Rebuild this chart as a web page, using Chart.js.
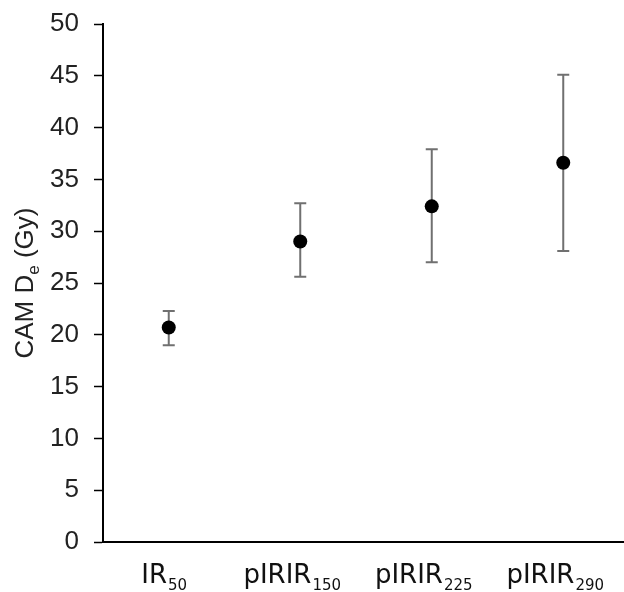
<!DOCTYPE html>
<html>
<head>
<meta charset="utf-8">
<script src="https://cdn.jsdelivr.net/npm/chart.js@4.4.1/dist/chart.umd.min.js"></script>
<style>
  html, body { margin: 0; padding: 0; background: #fff; overflow: hidden; }
  #wrap { width: 624px; height: 592px; overflow: hidden; }
</style>
</head>
<body>
<div id="wrap"><canvas id="myChart" width="636" height="592"></canvas></div>
<script>
// donnees
const labelMain = ["IR", "pIRIR", "pIRIR", "pIRIR"];
const labelSub = ["50", "150", "225", "290"];
const deValues = [20.7, 29.0, 32.4, 36.6];
const deLow = [19.0, 25.6, 27.0, 28.1];
const deHigh = [22.3, 32.7, 37.9, 45.1];
const yTicks = [0, 5, 10, 15, 20, 25, 30, 35, 40, 45, 50];

const categories = labelMain.map((m, i) => m + labelSub[i]);

// barres d'erreur dessinees avant les points
const errorBars = {
    id: 'errorBars',
    beforeDatasetsDraw(chart) {
        const ctx = chart.ctx;
        const x = chart.scales.x;
        const y = chart.scales.y;
        ctx.save();
        ctx.strokeStyle = '#707070';
        ctx.lineWidth = 2;
        deValues.forEach((v, i) => {
            const px = x.getPixelForValue(i);
            const top = y.getPixelForValue(deHigh[i]);
            const bot = y.getPixelForValue(deLow[i]);
            ctx.beginPath();
            ctx.moveTo(px, top);
            ctx.lineTo(px, bot);
            ctx.moveTo(px - 6, top);
            ctx.lineTo(px + 6, top);
            ctx.moveTo(px - 6, bot);
            ctx.lineTo(px + 6, bot);
            ctx.stroke();
        });
        ctx.restore();
    }
};

// etiquettes avec indices + titre de l'axe y
const subLabels = {
    id: 'subLabels',
    afterDraw(chart) {
        const ctx = chart.ctx;
        const x = chart.scales.x;
        ctx.save();
        ctx.fillStyle = '#111';
        ctx.textBaseline = 'alphabetic';
        ctx.textAlign = 'left';
        const mainFont = '26px "DejaVu Sans"';
        const subFont = '15px "DejaVu Sans"';
        labelMain.forEach((m, i) => {
            ctx.font = mainFont;
            const w1 = ctx.measureText(m).width;
            const wFull = ctx.measureText(labelSub[i]).width;
            const left = x.getPixelForValue(i) - (w1 + wFull) / 2 + 2;
            ctx.fillText(m, left, 583);
            ctx.font = subFont;
            ctx.fillText(labelSub[i], left + w1 + 1, 590);
        });

        // titre vertical
        ctx.translate(33, 283);
        ctx.rotate(-Math.PI / 2);
        ctx.fillStyle = '#222';
        const t1 = 'CAM D', t2 = 'e', t3 = ' (Gy)';
        const f1 = '26px "Liberation Sans"', f2 = '17px "Liberation Sans"';
        ctx.font = f1;
        const a = ctx.measureText(t1).width;
        const c = ctx.measureText(t3).width;
        ctx.font = f2;
        const b = ctx.measureText(t2).width;
        let sx = -(a + b + c) / 2;
        ctx.font = f1;
        ctx.fillText(t1, sx, 0);
        ctx.font = f2;
        ctx.fillText(t2, sx + a, 6);
        ctx.font = f1;
        ctx.fillText(t3, sx + a + b, 0);
        ctx.restore();
    }
};

let myChart;
function createChart() {
    const ctx = document.getElementById('myChart').getContext('2d');
    myChart = new Chart(ctx, {
        type: 'line',
        data: {
            labels: categories,
            datasets: [{
                data: deValues,
                showLine: false,
                pointRadius: 7,
                pointHoverRadius: 7,
                pointBackgroundColor: '#000',
                pointBorderColor: '#000',
                pointBorderWidth: 0,
            }],
        },
        options: {
            responsive: false,
            animation: false,
            maintainAspectRatio: false,
            layout: { padding: { top: 24, right: 0, left: 0, bottom: 0 } },
            plugins: {
                legend: { display: false },
                tooltip: { enabled: false },
            },
            scales: {
                x: {
                    offset: true,
                    grid: { display: false },
                    border: { display: true, color: '#000', width: 2 },
                    ticks: { display: false },
                    afterFit: scale => { scale.height = 50; },
                },
                y: {
                    min: 0,
                    max: 50,
                    afterBuildTicks: scale => {
                        scale.ticks = yTicks.map(v => ({ value: v }));
                    },
                    grid: {
                        drawOnChartArea: false,
                        drawTicks: true,
                        tickLength: 9,
                        tickColor: '#000',
                        tickWidth: 1.5,
                    },
                    border: { display: true, color: '#000', width: 2 },
                    ticks: {
                        color: '#222',
                        padding: 15,
                        font: { family: 'Liberation Sans', size: 26 },
                    },
                    afterFit: scale => {
                        scale.width = 103;
                        scale.paddingTop = 0;
                        scale.paddingBottom = 0;
                    },
                },
            },
        },
        plugins: [errorBars, subLabels],
    });
}

window.onload = () => {
    createChart();
};
</script>
</body>
</html>
